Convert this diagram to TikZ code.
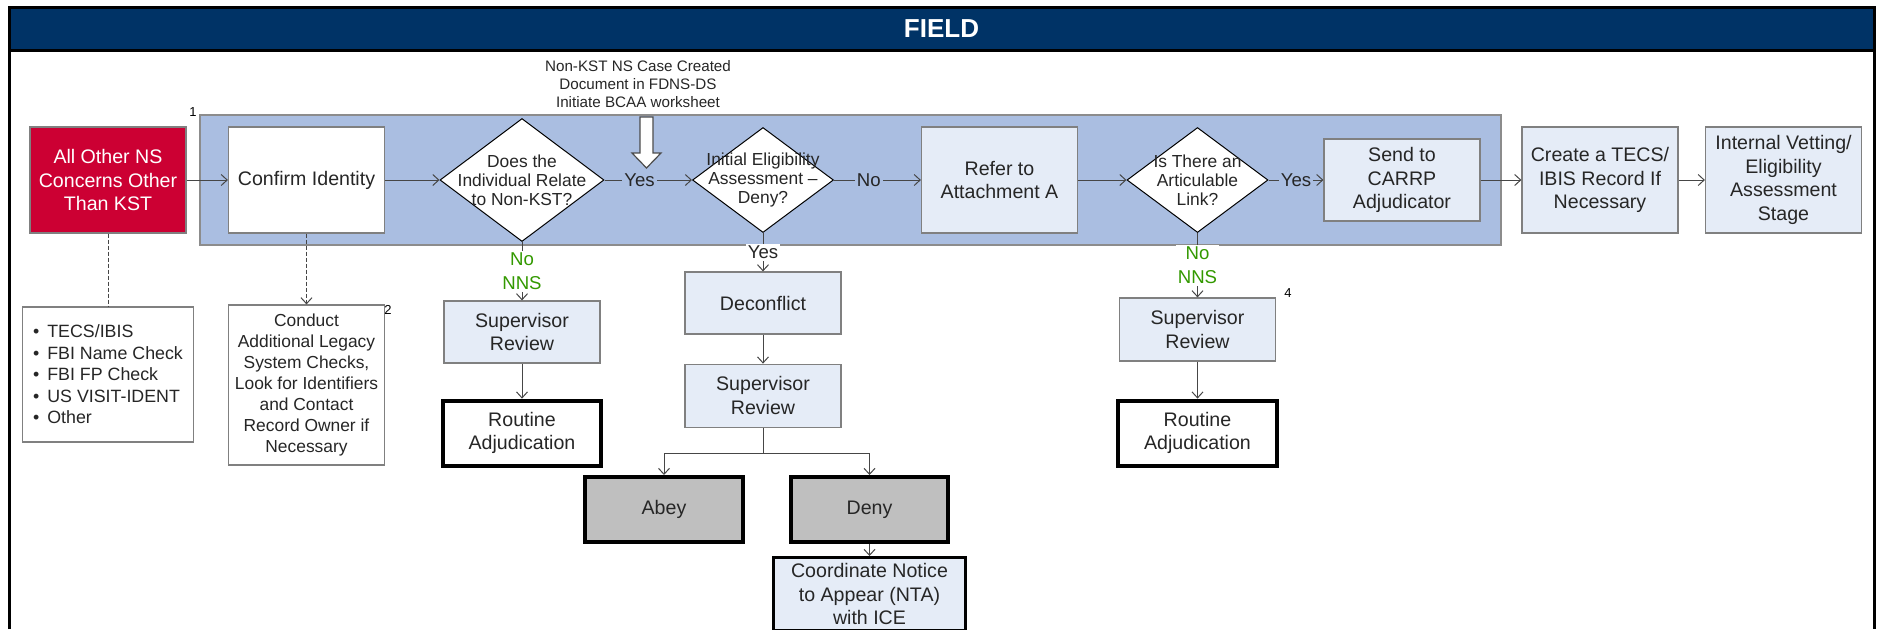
\documentclass[tikz,border=0pt]{standalone}
\usepackage{fontspec}
\setmainfont{Liberation Sans}
\usepackage{xcolor}
\usepackage{tikz}
\usetikzlibrary{arrows.meta}
\usetikzlibrary{positioning}
\usetikzlibrary{shapes}
\usetikzlibrary{calc}
\definecolor{fieldblue}{RGB}{0,51,102}
\definecolor{laneblue}{RGB}{170,190,225}
\definecolor{paleblue}{RGB}{229,236,247}
\definecolor{nsred}{RGB}{204,0,51}
\definecolor{abeygrey}{RGB}{191,191,191}
\definecolor{nnsgreen}{RGB}{51,153,0}
\definecolor{edgegrey}{RGB}{70,70,70}
\tikzset{
  fc_txt/.style = {align=center, inner sep=0pt, text centered, text=black!85,
    font=\fontsize{9.8}{11.8}\selectfont},
  fc_box/.style = {fc_txt, rectangle, draw=black!50, line width=0.6pt,
    minimum width=78pt, minimum height=53pt},% plain step
  fc_pale/.style = {fc_box, fill=paleblue},% pale blue step
  fc_white/.style = {fc_box, fill=white},% white step
  fc_red/.style = {fc_box, fill=nsred, text=white},% starting concern
  fc_end/.style = {fc_box, fill=white, draw=black, line width=2pt,
    minimum height=32.5pt},% end of a branch
  fc_grey/.style = {fc_end, fill=abeygrey},% abey / deny
  fc_dec/.style = {fc_txt, diamond, draw=black, fill=white, line width=0.5pt,
    inner sep=-14pt, font=\fontsize{8.7}{9.6}\selectfont},% decision
  fc_lbl/.style = {inner sep=1pt, text=black!85,
    font=\fontsize{9.3}{11}\selectfont},% label on an edge
  fc_nns/.style = {fc_lbl, align=center, fill=white, text=nnsgreen,
    font=\fontsize{9.3}{12}\selectfont},% green no / nns
  fc_num/.style = {inner sep=0pt, font=\fontsize{6.5}{7}\selectfont},% note number
  fc_arr/.style = {draw=edgegrey, line width=0.5pt,
    -{Straight Barb[length=3pt,width=5.5pt]}}
}

\begin{document}
\begin{tikzpicture}[x=0.5pt,y=-0.5pt]
\useasboundingbox (0,0) rectangle (1881,629);
% header and frame
\node [draw=black, line width=1.5pt, fill=fieldblue, inner sep=0pt,
  minimum width=932.5pt, minimum height=21.5pt, text=white,
  font=\bfseries\fontsize{13}{14}\selectfont] (field) at (941.5,28.5) {FIELD};
\draw [line width=1.5pt] (9,629) -- (9,50) -- (1874,50) -- (1874,629);
\node [fill=laneblue, draw=black!45, line width=0.6pt, inner sep=0pt,
  minimum width=650.5pt, minimum height=65pt] (lane) at (850.5,180) {};

% main row
\node [fc_red] (ns) at (108,180) {All Other NS\\Concerns Other\\Than KST};
\node [fc_white] (confirm) at (306.5,180) {Confirm Identity};
\node [fc_dec, minimum width=82pt, minimum height=61.5pt] (relate) at (522,180)
  {Does the\\Individual Relate\\to Non-KST?};
\node [fc_dec, minimum width=70.5pt, minimum height=52.5pt] (elig) at (763,180)
  {Initial Eligibility\\Assessment --\\Deny?};
\node [fc_pale] (refer) at (999.5,180) {Refer to\\Attachment A};
\node [fc_dec, minimum width=70.5pt, minimum height=52.5pt] (link) at (1197.5,180)
  {Is There an\\Articulable\\Link?};
\node [fc_pale, minimum height=41pt] (carrp) at (1402,180) {Send to\\CARRP\\Adjudicator};
\node [fc_pale] (tecs) at (1600,180) {Create a TECS/\\IBIS Record If\\Necessary};
\node [fc_pale] (vetting) at (1783.5,180) {Internal Vetting/\\Eligibility\\Assessment\\Stage};

% note and hollow arrow
\node [fc_lbl, align=center, font=\fontsize{7.6}{9}\selectfont] (note) at (638,84)
  {Non-KST NS Case Created\\Document in FDNS-DS\\Initiate BCAA worksheet};
\draw [draw=black!70, fill=white, line width=0.6pt] (640,117) -- (653,117) -- (653,153)
  -- (661,153) -- (646.5,168) -- (632,153) -- (640,153) -- cycle;

% lower branches
\node [fc_white, minimum width=85.5pt, minimum height=67.5pt, align=left,
  font=\fontsize{8.9}{10.75}\selectfont] (checks) at (108,374.5)
  {\textbullet\hspace{4pt}TECS/IBIS\\\textbullet\hspace{4pt}FBI Name Check\\
   \textbullet\hspace{4pt}FBI FP Check\\\textbullet\hspace{4pt}US VISIT-IDENT\\
   \textbullet\hspace{4pt}Other};
\node [fc_white, minimum height=80pt, font=\fontsize{8.7}{10.5}\selectfont] (conduct)
  at (306.5,385) {Conduct\\Additional Legacy\\System Checks,\\Look for Identifiers\\and Contact\\Record Owner if\\Necessary};
\node [fc_pale, minimum height=31pt] (sup1) at (522,332) {Supervisor\\Review};
\node [fc_end, minimum width=79pt, below=17.5pt of sup1] (routine1) {Routine\\Adjudication};
\node [fc_pale, minimum height=31pt] (deconflict) at (763,303) {Deconflict};
\node [fc_pale, minimum height=31.5pt, below=14.5pt of deconflict] (sup2) {Supervisor\\Review};
\node [fc_grey, minimum width=79pt] (abey) at (664,509.5) {Abey};
\node [fc_grey, minimum width=78.5pt] (deny) at (869.5,509.5) {Deny};
\node [fc_end, fill=paleblue, line width=1.6pt, minimum width=96pt, minimum height=36.5pt,
  below=6pt of deny] (nta) {Coordinate Notice\\to Appear (NTA)\\with ICE};
\node [fc_pale, minimum height=31.5pt] (sup3) at (1197.5,329.5) {Supervisor\\Review};
\node [fc_end, minimum width=79.5pt, below=18.5pt of sup3] (routine3) {Routine\\Adjudication};

% note numbers
\node [fc_num] (num1) at (193,112) {1};
\node [fc_num] (num2) at (388,310) {2};
\node [fc_num] (num4) at (1288,293) {4};

% connectors
\draw [fc_arr] (ns) -- (confirm);
\draw [fc_arr] (confirm) -- (relate);
\draw [fc_arr] (relate) -- node [fc_lbl, fill=laneblue, pos=0.4] {Yes} (elig);
\draw [fc_arr] (elig) -- node [fc_lbl, fill=laneblue, pos=0.4] {No} (refer);
\draw [fc_arr] (refer) -- (link);
\draw [fc_arr] (link) -- node [fc_lbl, fill=laneblue] {Yes} (carrp);
\draw [fc_arr] (carrp) -- (tecs);
\draw [fc_arr] (tecs) -- (vetting);
\draw [draw=edgegrey, line width=0.5pt, dash pattern=on 2pt off 1pt] (ns) -- (checks);
\draw [fc_arr, dash pattern=on 2pt off 1pt] (confirm) -- (conduct);
\draw [fc_arr] (relate) -- node [fc_nns] {No\\NNS} (sup1);
\draw [fc_arr] (sup1) -- (routine1);
\draw [fc_arr] (elig) -- node [fc_lbl, fill=white] {Yes} (deconflict);
\draw [fc_arr] (deconflict) -- (sup2);
\coordinate (split) at (763,453);
\draw [fc_arr] (sup2) -- (split) -| (abey);
\draw [fc_arr] (split) -| (deny);
\draw [fc_arr] (deny) -- (nta);
\draw [fc_arr] (link) -- node [fc_nns] {No\\NNS} (sup3);
\draw [fc_arr] (sup3) -- (routine3);
\end{tikzpicture}
\end{document}
